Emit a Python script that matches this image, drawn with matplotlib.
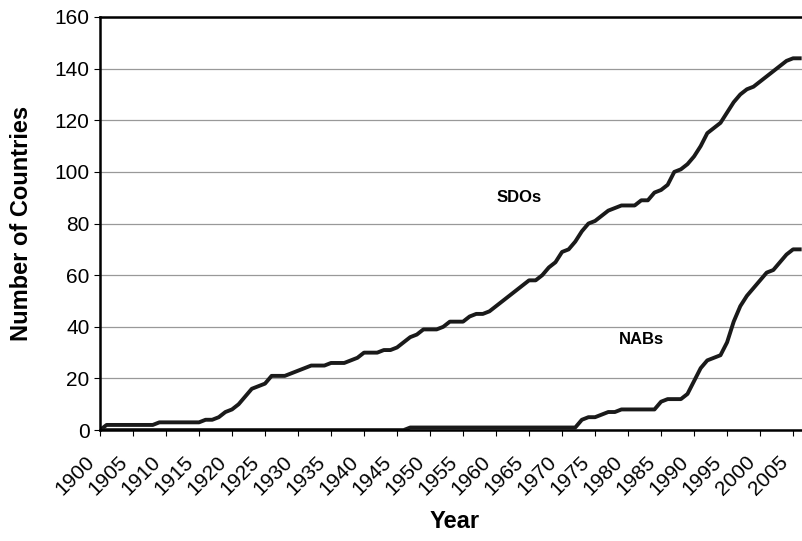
import numpy as np
import matplotlib.pyplot as plt
from matplotlib.transforms import ScaledTranslation

plt.rcParams['font.family'] = ['Liberation Sans', 'DejaVu Sans']

years = list(range(1900, 2007))

sdos = [0, 2, 2, 2, 2, 2, 2, 2, 2, 3,          # 1900-1909
        3, 3, 3, 3, 3, 3, 4, 4, 5, 7,          # 1910-1919
        8, 10, 13, 16, 17, 18, 21, 21, 21, 22,  # 1920-1929
        23, 24, 25, 25, 25, 26, 26, 26, 27, 28,  # 1930-1939
        30, 30, 30, 31, 31, 32, 34, 36, 37, 39,  # 1940-1949
        39, 39, 40, 42, 42, 42, 44, 45, 45, 46,  # 1950-1959
        48, 50, 52, 54, 56, 58, 58, 60, 63, 65,  # 1960-1969
        69, 70, 73, 77, 80, 81, 83, 85, 86, 87,  # 1970-1979
        87, 87, 89, 89, 92, 93, 95, 100, 101, 103,  # 1980-1989
        106, 110, 115, 117, 119, 123, 127, 130, 132, 133,  # 1990-1999
        135, 137, 139, 141, 143, 144, 144]      # 2000-2006

nabs = [0] * 47 + [1] * 26 + [               # 1900-1946, 1947-1972
        4, 5, 5, 6, 7, 7, 8,                  # 1973-1979
        8, 8, 8, 8, 8, 11, 12, 12, 12, 14,    # 1980-1989
        19, 24, 27, 28, 29, 34, 42, 48, 52, 55,  # 1990-1999
        58, 61, 62, 65, 68, 70, 70]           # 2000-2006

fig = plt.figure(figsize=(8.03, 5.41), dpi=100)
ax = fig.add_axes([0.1245, 0.205, 0.8755, 0.7636])

ax.plot(years, sdos, color='#1a1a1a', lw=2.8, solid_joinstyle='round')
ax.plot(years, nabs, color='#1a1a1a', lw=2.8, solid_joinstyle='round')

ax.text(1963.5, 90, 'SDOs', fontsize=12, fontweight='bold', ha='center', va='center')
ax.text(1982, 35, 'NABs', fontsize=12, fontweight='bold', ha='center', va='center')

ax.set_xlim(1900, 2006.5)
ax.set_ylim(0, 160)
ax.set_yticks(range(0, 161, 20))
ax.set_xticks(range(1900, 2006, 5))
ax.tick_params(axis='both', labelsize=15, direction='out', length=4, width=0.8)
ax.tick_params(axis='x', pad=17)
# nudge rotated year labels a little left, as in the original
shift = ScaledTranslation(-6 / 72, 0, fig.dpi_scale_trans)
for lab in ax.get_xticklabels():
    lab.set_rotation(45)
    lab.set_ha('right')
    lab.set_va('center')
    lab.set_rotation_mode('anchor')
    lab.set_transform(lab.get_transform() + shift)

ax.grid(axis='y', color='#999999', lw=0.9)
ax.set_axisbelow(True)
for s in ['left', 'bottom', 'top']:
    ax.spines[s].set_linewidth(1.8)
ax.spines['right'].set_visible(False)

ax.set_ylabel('Number of Countries', fontsize=17, fontweight='bold', va='center')
ax.yaxis.set_label_coords(-0.112, 0.5)
ax.set_xlabel('Year', fontsize=17, fontweight='bold', va='center')
ax.xaxis.set_label_coords(0.505, -0.222)

fig.savefig('out.png', dpi=100)
